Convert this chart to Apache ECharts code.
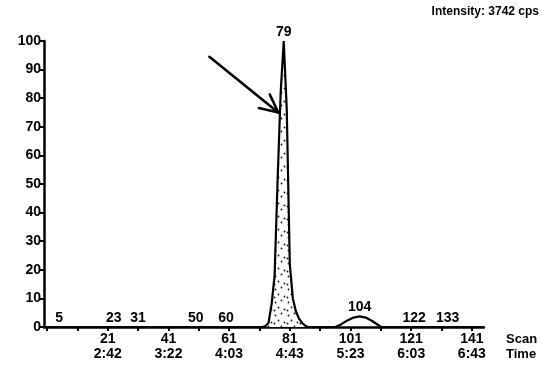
<!DOCTYPE html>
<html>
<head>
<meta charset="utf-8">
<script src="https://cdn.jsdelivr.net/npm/echarts@6/dist/echarts.min.js"></script>
<style>
  html, body { margin: 0; padding: 0; background: #fff; }
  #chart { width: 542px; height: 368px; }
</style>
</head>
<body>
<div id="chart"></div>
<script>
// Total ion trace: scan number vs relative intensity (%)
const traceScans = [0, 72, 73, 74, 75, 76, 77, 78, 79, 80, 81, 82, 83, 84, 85, 86, 87, 96, 98, 100, 102, 104, 106, 108, 110, 111, 145];
const traceIntensity = [0, 0, 0.3, 1.5, 8, 18, 52, 82, 100, 76, 22, 10, 5.5, 3, 1.5, 0.5, 0, 0, 1, 2.3, 3.3, 3.7, 3.3, 2.2, 0.8, 0, 0];

// Labelled peak apexes
const peakScans = [5, 23, 31, 50, 60, 79, 104, 122, 133];
const peakHeights = [0, 0, 0, 0, 0, 100, 3.7, 0, 0];

// Axis ticks and labels
const scanTicks = [1, 11, 21, 31, 41, 51, 61, 71, 81, 91, 101, 111, 121, 131, 141];
const scanLabels = [21, 41, 61, 81, 101, 121, 141];
const timeLabels = ['2:42', '3:22', '4:03', '4:43', '5:23', '6:03', '6:43'];
const intensityTitle = 'Intensity: 3742 cps';

// Range of the shaded main peak
const shadedFrom = 72, shadedTo = 87;

const FONT = "'Liberation Sans', Arial, sans-serif";

const tracePairs = traceScans.map((s, i) => [s, traceIntensity[i]]);
const shadedPairs = tracePairs.filter(p => p[0] >= shadedFrom && p[0] <= shadedTo);
const peakPairs = peakScans.map((s, i) => [s, peakHeights[i]]);
const timeByScan = {};
scanLabels.forEach((s, i) => { timeByScan[s] = timeLabels[i]; });

// Stipple pattern for the main peak fill
const tile = document.createElement('canvas');
tile.width = 13; tile.height = 13;
const tctx = tile.getContext('2d');
tctx.fillStyle = '#fff';
tctx.fillRect(0, 0, 13, 13);
tctx.fillStyle = '#111';
[[2, 3], [8, 1], [5, 8], [11, 10], [1, 11]].forEach(([x, y]) => {
  tctx.beginPath(); tctx.arc(x + 0.5, y + 0.5, 0.9, 0, Math.PI * 2); tctx.fill();
});

const chart = echarts.init(document.getElementById('chart'), null, { renderer: 'canvas' });

const textStyle = (size) => ({ fill: '#000', fontFamily: FONT, fontWeight: 'bold', fontSize: size });

chart.setOption({
  backgroundColor: '#fff',
  animation: false,
  grid: { left: 44, top: 41, width: 440, height: 286, outerBoundsMode: 'none' },
  xAxis: {
    type: 'value',
    min: 0,
    max: 145,
    splitLine: { show: false },
    axisLine: { show: true, onZero: false, lineStyle: { color: '#000', width: 2.5 } },
    axisTick: { show: true, inside: false, length: 4, customValues: scanTicks, lineStyle: { color: '#000', width: 2 } },
    axisLabel: {
      show: true,
      customValues: scanLabels,
      margin: 5,
      color: '#000',
      fontFamily: FONT,
      fontWeight: 'bold',
      fontSize: 14,
      lineHeight: 15,
      formatter: v => v + '\n' + (timeByScan[v] || '')
    }
  },
  yAxis: {
    type: 'value',
    min: 0,
    max: 100,
    interval: 10,
    splitLine: { show: false },
    axisLine: { show: true, lineStyle: { color: '#000', width: 2.5 } },
    axisTick: { show: true, inside: false, length: 4, lineStyle: { color: '#000', width: 2 } },
    axisLabel: { margin: 3, color: '#000', fontFamily: FONT, fontWeight: 'bold', fontSize: 14 }
  },
  series: [
    {
      name: 'peak79',
      type: 'line',
      data: shadedPairs,
      showSymbol: false,
      clip: false,
      lineStyle: { width: 0 },
      areaStyle: { color: { image: tile, repeat: 'repeat' }, opacity: 1 },
      z: 1
    },
    {
      name: 'trace',
      type: 'line',
      data: tracePairs,
      showSymbol: false,
      clip: false,
      lineStyle: { color: '#000', width: 2.2 },
      z: 2
    },
    {
      name: 'peaks',
      type: 'scatter',
      data: peakPairs,
      symbolSize: 0,
      clip: false,
      itemStyle: { opacity: 1, color: '#000' },
      label: {
        show: true,
        position: 'top',
        distance: 2,
        color: '#000',
        opacity: 1,
        fontFamily: FONT,
        fontWeight: 'bold',
        fontSize: 14,
        formatter: p => String(p.value[0])
      },
      z: 3
    }
  ],
  graphic: [
    { id: 'title', type: 'text', right: 3, top: 6, style: Object.assign({ text: intensityTitle }, textStyle(12)) },
    { id: 'units', type: 'text', left: 506, top: 332, style: Object.assign({ text: 'Scan\nTime', lineHeight: 15 }, textStyle(13)) }
  ]
});

// Arrow pointing at the main peak (data coordinates)
const arrowFrom = [54.5, 94.5];
const arrowTo = [77.2, 75];
const p0 = chart.convertToPixel({ gridIndex: 0 }, arrowFrom);
const p1 = chart.convertToPixel({ gridIndex: 0 }, arrowTo);
const ang = Math.atan2(p0[1] - p1[1], p0[0] - p1[0]);
const headLen = 20, spread = 0.45;
const h1 = [p1[0] + headLen * Math.cos(ang + spread), p1[1] + headLen * Math.sin(ang + spread)];
const h2 = [p1[0] + headLen * Math.cos(ang - spread), p1[1] + headLen * Math.sin(ang - spread)];
const arrowStyle = { stroke: '#000', lineWidth: 2.5, lineCap: 'round', fill: null };
chart.setOption({
  graphic: [
    { id: 'arrowShaft', type: 'line', shape: { x1: p0[0], y1: p0[1], x2: p1[0], y2: p1[1] }, style: arrowStyle, z: 10 },
    { id: 'arrowHead', type: 'polyline', shape: { points: [h1, p1, h2] }, style: arrowStyle, z: 10 }
  ]
});
</script>
</body>
</html>
